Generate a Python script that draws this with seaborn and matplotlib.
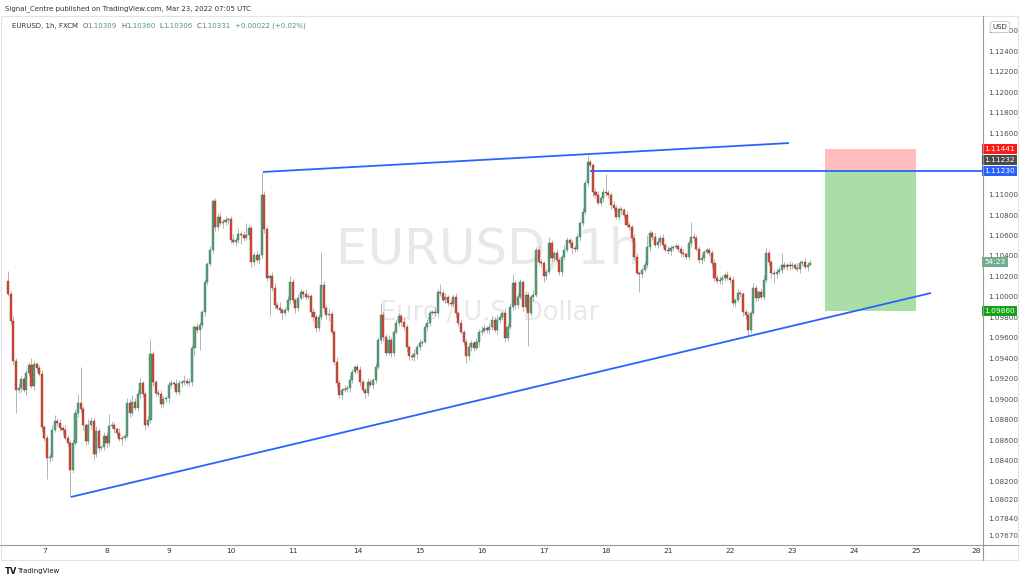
import numpy as np
import pandas as pd
import matplotlib
matplotlib.use('Agg')
import matplotlib.pyplot as plt
import matplotlib.transforms as mtransforms
from matplotlib.patches import Rectangle
from matplotlib.lines import Line2D
import seaborn as sns

sns.set_theme(style='white')
plt.rcParams['font.family'] = ['DejaVu Sans']

# EURUSD 1h (FXCM), hourly closes, Mar 4 10:00 -> Mar 23 07:00 UTC
first_open = 1.1016
closes = [
    1.1003, 1.0977, 1.0938, 1.0909, 1.0911, 1.0920, 1.0909, 1.0926, 1.0934, 1.0913,
    1.0935, 1.0931, 1.0925, 1.0873, 1.0862, 1.0843, 1.0844, 1.0870, 1.0879, 1.0877,
    1.0872, 1.0870, 1.0862, 1.0858, 1.0831, 1.0858, 1.0887, 1.0897, 1.0891, 1.0875,
    1.0859, 1.0875, 1.0879, 1.0847, 1.0869, 1.0853, 1.0854, 1.0864, 1.0858, 1.0874,
    1.0875, 1.0871, 1.0867, 1.0861, 1.0862, 1.0864, 1.0897, 1.0887, 1.0898, 1.0892,
    1.0905, 1.0916, 1.0905, 1.0875, 1.0880, 1.0944, 1.0917, 1.0906, 1.0905, 1.0896,
    1.0900, 1.0901, 1.0914, 1.0916, 1.0915, 1.0907, 1.0916, 1.0917, 1.0918, 1.0916,
    1.0917, 1.0950, 1.0971, 1.0968, 1.0973, 1.0985, 1.1015, 1.1032, 1.1046, 1.1094,
    1.1068, 1.1078, 1.1072, 1.1073, 1.1075, 1.1076, 1.1056, 1.1054, 1.1056, 1.1061,
    1.1060, 1.1058, 1.1060, 1.1067, 1.1034, 1.1041, 1.1036, 1.1041, 1.1100, 1.1066,
    1.1019, 1.1020, 1.1009, 1.0992, 1.0989, 1.0987, 1.0984, 1.0987, 1.0997, 1.1015,
    1.0997, 1.0989, 1.0999, 1.1005, 1.1003, 1.1000, 1.1001, 1.0985, 1.0980, 1.0970,
    1.0980, 1.1012, 1.0989, 1.0982, 1.0983, 1.0966, 1.0937, 1.0916, 1.0904, 1.0909,
    1.0910, 1.0911, 1.0919, 1.0927, 1.0932, 1.0929, 1.0917, 1.0909, 1.0906, 1.0917,
    1.0914, 1.0919, 1.0932, 1.0958, 1.0982, 1.0961, 1.0945, 1.0958, 1.0945, 1.0966,
    1.0975, 1.0981, 1.0976, 1.0971, 1.0951, 1.0942, 1.0941, 1.0944, 1.0951, 1.0955,
    1.0956, 1.0971, 1.0975, 1.0984, 1.0985, 1.0984, 1.1005, 1.1004, 1.0997, 1.1000,
    1.0994, 1.0993, 1.1000, 1.0984, 1.0975, 1.0966, 1.0956, 1.0942, 1.0951, 1.0955,
    1.0950, 1.0956, 1.0966, 1.0967, 1.0970, 1.0968, 1.0971, 1.0978, 1.0968, 1.0978,
    1.0980, 1.0984, 1.0960, 1.0971, 1.0990, 1.1014, 1.0992, 1.1000, 1.1015, 1.0990,
    1.1002, 1.0984, 1.1000, 1.1002, 1.1046, 1.1034, 1.1033, 1.1020, 1.1024, 1.1053,
    1.1038, 1.1043, 1.1036, 1.1024, 1.1039, 1.1046, 1.1056, 1.1053, 1.1048, 1.1047,
    1.1059, 1.1072, 1.1083, 1.1111, 1.1132, 1.1129, 1.1102, 1.1100, 1.1092, 1.1097,
    1.1102, 1.1101, 1.1100, 1.1090, 1.1087, 1.1078, 1.1086, 1.1085, 1.1080, 1.1070,
    1.1068, 1.1058, 1.1039, 1.1023, 1.1022, 1.1026, 1.1031, 1.1049, 1.1062, 1.1059,
    1.1051, 1.1054, 1.1058, 1.1051, 1.1046, 1.1045, 1.1048, 1.1049, 1.1050, 1.1047,
    1.1043, 1.1042, 1.1039, 1.1053, 1.1059, 1.1058, 1.1047, 1.1036, 1.1038, 1.1044,
    1.1046, 1.1043, 1.1033, 1.1019, 1.1016, 1.1017, 1.1019, 1.1021, 1.1019, 1.1017,
    1.0994, 1.0997, 1.1004, 1.1003, 1.0985, 1.0982, 1.0968, 1.0984, 1.1009, 1.0999,
    1.1005, 1.1000, 1.1017, 1.1043, 1.1034, 1.1023, 1.1022, 1.1024, 1.1026, 1.1031,
    1.1029, 1.1031, 1.1030, 1.1031, 1.1028, 1.1027, 1.1033, 1.1034, 1.1029, 1.10309,
    1.10331,
]
# wick lengths beyond the body, in pips
wick_up = [
    9, 3, 4, 2, 5, 3, 2, 4, 3, 6, 3, 2, 3, 4, 2, 3, 4, 5, 6, 3,
    4, 2, 5, 3, 2, 3, 4, 8, 35, 3, 2, 6, 4, 3, 5, 3, 2, 4, 3, 12,
    4, 3, 2, 5, 3, 2, 4, 3, 6, 3, 4, 5, 2, 3, 4, 15, 3, 2, 3, 4,
    3, 2, 4, 3, 2, 5, 3, 2, 6, 3, 4, 3, 2, 4, 3, 2, 3, 2, 4, 2,
    3, 4, 5, 3, 4, 2, 3, 5, 2, 6, 3, 4, 12, 3, 2, 3, 4, 2, 22, 3,
    3, 2, 4, 5, 3, 6, 2, 3, 4, 5, 3, 2, 4, 3, 2, 5, 3, 2, 4, 3,
    3, 32, 4, 3, 5, 3, 2, 4, 3, 2, 4, 3, 5, 3, 2, 3, 4, 3, 2, 4,
    3, 2, 4, 3, 12, 4, 3, 5, 3, 2, 4, 3, 2, 4, 3, 2, 3, 5, 3, 4,
    2, 3, 4, 3, 2, 5, 3, 8, 3, 4, 2, 3, 3, 4, 2, 3, 2, 3, 4, 3,
    2, 4, 3, 5, 3, 2, 4, 3, 2, 4, 3, 2, 5, 3, 4, 8, 3, 4, 3, 2,
    4, 3, 2, 5, 3, 4, 3, 2, 3, 6, 3, 2, 4, 3, 2, 5, 3, 2, 4, 3,
    3, 2, 4, 3, 7, 3, 2, 4, 3, 2, 3, 18, 3, 2, 4, 3, 2, 3, 2, 4,
    3, 2, 3, 4, 2, 3, 4, 11, 3, 2, 3, 4, 2, 3, 2, 4, 3, 2, 3, 2,
    3, 4, 2, 3, 14, 3, 2, 3, 4, 2, 3, 2, 3, 4, 2, 3, 2, 3, 4, 2,
    3, 2, 4, 3, 2, 3, 4, 2, 5, 3, 2, 3, 4, 5, 3, 2, 3, 4, 3, 12,
    3, 2, 4, 3, 2, 5, 3, 2, 4, 3, 3,
]
wick_dn = [
    2, 3, 4, 22, 3, 4, 2, 5, 3, 2, 4, 3, 2, 4, 3, 21, 4, 3, 2, 3,
    3, 4, 2, 3, 26, 3, 2, 4, 3, 5, 3, 2, 4, 6, 3, 4, 2, 3, 5, 3,
    2, 4, 3, 2, 5, 3, 2, 4, 3, 2, 3, 4, 3, 5, 2, 3, 4, 3, 2, 4,
    3, 2, 4, 3, 5, 2, 3, 4, 3, 2, 3, 4, 8, 3, 20, 3, 4, 3, 2, 3,
    4, 3, 2, 5, 3, 4, 3, 2, 4, 3, 8, 3, 2, 4, 5, 3, 2, 4, 3, 4,
    3, 38, 3, 4, 2, 3, 5, 3, 2, 4, 3, 5, 3, 2, 4, 3, 2, 5, 3, 4,
    3, 2, 4, 3, 5, 2, 3, 4, 3, 4, 2, 3, 4, 3, 2, 3, 4, 2, 5, 3,
    2, 4, 3, 2, 3, 4, 3, 2, 4, 3, 2, 3, 4, 3, 5, 3, 2, 3, 4, 3,
    3, 2, 4, 3, 2, 3, 4, 3, 2, 4, 3, 2, 3, 4, 3, 2, 3, 6, 3, 4,
    3, 2, 4, 3, 2, 3, 4, 3, 2, 4, 3, 2, 4, 3, 2, 3, 4, 3, 2, 4,
    3, 32, 3, 4, 2, 3, 4, 5, 3, 2, 4, 3, 2, 3, 4, 3, 2, 4, 6, 3,
    2, 4, 3, 2, 3, 2, 4, 3, 2, 3, 4, 2, 3, 4, 3, 2, 3, 4, 3, 2,
    3, 4, 3, 2, 17, 3, 2, 3, 4, 3, 2, 3, 4, 3, 2, 3, 4, 3, 2, 3,
    4, 3, 2, 3, 4, 3, 2, 3, 4, 3, 2, 3, 4, 3, 2, 3, 4, 3, 2, 3,
    3, 4, 2, 3, 4, 3, 5, 3, 2, 4, 3, 2, 3, 2, 3, 4, 8, 3, 2, 3,
    2, 3, 4, 3, 2, 3, 4, 3, 2, 4, 0,
]

# time axis: candles before the first labelled day, then candles between labels
day_labels = ['7', '8', '9', '10', '11', '14', '15', '16', '17', '18',
              '21', '22', '23', '24', '25', '28']
lead_candles = 14
candles_between_labels = [24, 24, 24, 24, 25, 24, 24, 24, 24, 24, 24, 24, 24, 24, 23]

price_ticks = [1.126, 1.124, 1.122, 1.120, 1.118, 1.116, 1.110, 1.108, 1.106, 1.104,
               1.102, 1.100, 1.098, 1.096, 1.094, 1.092, 1.090, 1.088, 1.086, 1.084,
               1.082, 1.0802, 1.0784, 1.0767]

# drawings (candle index, price)
upper_trend = [(98.5, 1.11220), (301.8, 1.11502)]
lower_trend = [(24.3, 1.08049), (356.7, 1.10039)]
entry_line_start = 224.9
stop_price, entry_price, target_price = 1.11441, 1.11230, 1.09860
position_span = (315.7, 350.9)
last_close = 1.10331

df = pd.DataFrame({'close': closes})
df['open'] = df['close'].shift(1).fillna(first_open)
df['top'] = df[['open', 'close']].max(axis=1)
df['bot'] = df[['open', 'close']].min(axis=1)
df['high'] = df['top'] + np.array(wick_up) / 1e4
df['low'] = df['bot'] - np.array(wick_dn) / 1e4
df['up'] = df['close'] >= df['open']
idx = np.arange(len(df))

W, H = 1024, 581
fig = plt.figure(figsize=(W / 100, H / 100), dpi=100)
fig.patch.set_facecolor('white')
ax = fig.add_axes([0, 36 / H, 982 / W, 528 / H])
ax.set_facecolor('white')

x_lo, x_hi = -3.17, 376.4
ax.set_xlim(x_lo, x_hi)
ax.set_ylim(1.0758, 1.12732)

# watermark
ax.text(0.497, 0.559, 'EURUSD, 1h', transform=ax.transAxes, ha='center', va='center',
        fontsize=36, color='#e8e8eb', zorder=0)
ax.text(0.499, 0.439, 'Euro / U.S. Dollar', transform=ax.transAxes, ha='center', va='center',
        fontsize=18.5, color='#e8e8eb', zorder=0)

# position tool
px0, px1 = position_span
ax.add_patch(Rectangle((px0, entry_price), px1 - px0, stop_price - entry_price,
                       fc='#ffbdbd', ec='none', zorder=1))
ax.add_patch(Rectangle((px0, target_price), px1 - px0, entry_price - target_price,
                       fc='#a9dea6', ec='none', zorder=1))

# candles
up_fc, up_ec = '#5b9f7c', '#3a7658'
dn_fc, dn_ec = '#d24b3b', '#93301f'
ax.vlines(idx, df['low'], df['high'], color='#a8a8a8', lw=0.6, zorder=2)
heights = np.maximum(df['top'] - df['bot'], 0.00008)
ax.bar(idx, heights, bottom=df['bot'], width=0.8,
       color=np.where(df['up'], up_fc, dn_fc),
       edgecolor=np.where(df['up'], up_ec, dn_ec), linewidth=0.3, zorder=3)

# trend lines
blue = '#2962ff'
ax.plot(*zip(*upper_trend), color=blue, lw=1.3, zorder=4, solid_capstyle='butt')
ax.plot(*zip(*lower_trend), color=blue, lw=1.3, zorder=4, solid_capstyle='butt')
ax.hlines(entry_price, entry_line_start, x_hi, color=blue, lw=1.3, zorder=4)

# axes styling
for s in ['top', 'left', 'right', 'bottom']:
    ax.spines[s].set_visible(False)
ax.grid(False)
tick_pos = lead_candles + np.concatenate([[0], np.cumsum(candles_between_labels)])
ax.set_xticks(tick_pos)
ax.set_xticklabels(day_labels)
ax.tick_params(axis='x', length=0, pad=2, labelsize=5.3, labelcolor='#333333')
ax.yaxis.tick_right()
ax.set_yticks(price_ticks)
ax.set_yticklabels([f'{t:.5f}' for t in price_ticks])
ax.tick_params(axis='y', length=0, pad=4.5, labelsize=5.2, labelcolor='#4c4c4c')

# price tags on the right scale
trans = mtransforms.blended_transform_factory(ax.transAxes, ax.transData)


def price_tag(y, text, fc):
    ax.text(1.0025, y, text, transform=trans, ha='left', va='center', fontsize=5.3,
            color='white', bbox=dict(boxstyle='square,pad=0.28', fc=fc, ec='none'),
            clip_on=False, zorder=20)


price_tag(stop_price, '1.11441', '#ff1a1a')
price_tag((stop_price + entry_price) / 2, '1.11232', '#4a4a4a')
price_tag(entry_price, '1.11230', '#2962ff')
price_tag(last_close + 0.0001, '54:23', '#72ad8e')
price_tag(target_price, '1.09860', '#14a314')

# frame and scale lines
line_c = '#9598a1'
fig.add_artist(Line2D([982.5 / W, 982.5 / W], [1 - 16 / H, 1 - 560 / H], color=line_c, lw=0.8))
fig.add_artist(Line2D([0, 1018 / W], [1 - 545 / H, 1 - 545 / H], color=line_c, lw=0.8))
fig.add_artist(Rectangle((0.5 / W, 1 - 560 / H), 1017.5 / W, 544 / H, fill=False,
                         ec='#e0e3eb', lw=0.8))

fig.text(1000 / W, 1 - 27 / H, 'USD', ha='center', va='center', fontsize=5, color='#333333',
         bbox=dict(boxstyle='round,pad=0.35', fc='white', ec='#c8c8c8', lw=0.6), zorder=25)

# header
fig.text(5 / W, 1 - 9 / H, 'Signal_Centre published on TradingView.com, Mar 23, 2022 07:05 UTC',
         ha='left', va='center', fontsize=5, color='#333333')

green_txt, grey_txt = '#4f9a6a', '#555555'
parts = [('EURUSD, 1h, FXCM', '#333333', 0), ('O', grey_txt, 3), ('1.10309', green_txt, 0),
         ('H', grey_txt, 3), ('1.10360', green_txt, 0), ('L', grey_txt, 3),
         ('1.10306', green_txt, 0), ('C', grey_txt, 3), ('1.10331', green_txt, 0),
         ('+0.00022 (+0.02%)', green_txt, 3)]
prev = fig.text(12 / W, 1 - 26 / H, parts[0][0], ha='left', va='center', fontsize=5,
                color=parts[0][1])
for txt, col, gap in parts[1:]:
    prev = ax.annotate(txt, xy=(1, 0.5), xycoords=prev, xytext=(gap, 0),
                       textcoords='offset points', ha='left', va='center',
                       fontsize=5, color=col, annotation_clip=False)

# footer logo
fig.text(5 / W, 1 - 571 / H, 'TV', ha='left', va='center', fontsize=6, fontweight='bold',
         color='#131722')
fig.text(17 / W, 1 - 571 / H, 'TradingView', ha='left', va='center', fontsize=5, color='#131722')

fig.savefig('out.png', dpi=100, facecolor='white')
